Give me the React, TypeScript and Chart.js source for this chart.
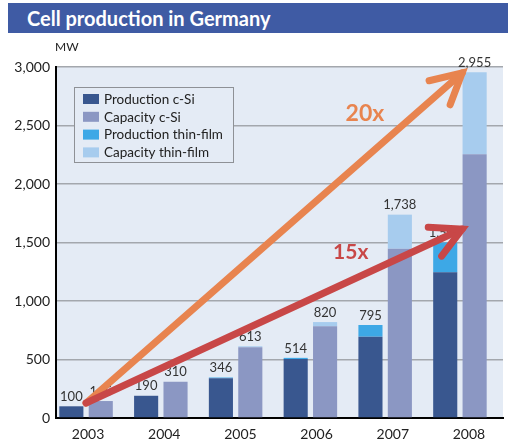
import { useEffect, useRef } from "react";
import { Chart, registerables } from "chart.js";

Chart.register(...registerables);

const years = ["2003", "2004", "2005", "2006", "2007", "2008"];
const productionCSi = [100, 190, 340, 504, 695, 1245];
const productionThinFilm = [0, 0, 6, 10, 100, 255];
const capacityCSi = [145, 310, 605, 784, 1447, 2254];
const capacityThinFilm = [0, 0, 8, 36, 291, 701];
const yTicks = [0, 500, 1000, 1500, 2000, 2500, 3000];

// growth arrows, in data units: [category index, MW]
const arrowLabels = ["20x", "15x"];
const arrowFrom = [[0, 128], [0, 128]];
const arrowTo = [[5.03, 2949], [5.03, 1615]];
const arrowTextAt = [[3.73, 2603], [3.54, 1419]];

const FONT = "Lato, 'Open Sans', sans-serif";
const COLORS = {
  prodCSi: "#39578F",
  capCSi: "#8B97C3",
  prodTF: "#3DA8E6",
  capTF: "#A7CCEE",
  bg: "#E4EBF5",
  grid: "#A3A7AD",
  text: "#222222",
};
const arrowColors = ["#E8844F", "#C84747"];
const arrowFontSize = [23, 21];

const legendItems = [
  { label: "Production c-Si", color: COLORS.prodCSi },
  { label: "Capacity c-Si", color: COLORS.capCSi },
  { label: "Production thin-film", color: COLORS.prodTF },
  { label: "Capacity thin-film", color: COLORS.capTF },
];

const fmt = (v: number) => v.toLocaleString("en-US");

const bgPlugin = {
  id: "bgPlugin",
  beforeDraw(chart: any) {
    const { ctx, chartArea } = chart;
    ctx.save();
    ctx.fillStyle = COLORS.bg;
    ctx.fillRect(chartArea.left, chartArea.top, chartArea.right - chartArea.left, chartArea.bottom - chartArea.top);
    ctx.restore();
  },
};

const overlayPlugin = {
  id: "overlayPlugin",
  afterDatasetsDraw(chart: any) {
    const { ctx } = chart;
    const xs = chart.scales.x;
    const ys = chart.scales.y;
    ctx.save();
    // totals above each stack
    ctx.font = `13px ${FONT}`;
    ctx.fillStyle = "#333";
    ctx.textAlign = "center";
    ctx.textBaseline = "bottom";
    const tops = [
      { meta: chart.getDatasetMeta(2), a: productionCSi, b: productionThinFilm },
      { meta: chart.getDatasetMeta(3), a: capacityCSi, b: capacityThinFilm },
    ];
    tops.forEach(({ meta, a, b }) => {
      meta.data.forEach((el: any, i: number) => {
        ctx.fillText(fmt(a[i] + b[i]), el.x, el.y - 3);
      });
    });

    // legend box
    const lx = 74.5, ly = 87.5, lw = 159, lh = 75;
    ctx.fillStyle = COLORS.bg;
    ctx.fillRect(lx, ly, lw, lh);
    ctx.strokeStyle = "#8E9196";
    ctx.lineWidth = 1;
    ctx.strokeRect(lx, ly, lw, lh);
    ctx.textAlign = "left";
    ctx.textBaseline = "middle";
    ctx.font = `13.5px ${FONT}`;
    legendItems.forEach((it, i) => {
      const cy = 99 + i * 17.8;
      ctx.fillStyle = it.color;
      ctx.fillRect(83, cy - 5, 16, 10);
      ctx.fillStyle = COLORS.text;
      ctx.fillText(it.label, 104, cy + 0.5);
    });

    // MW unit
    ctx.font = `12px ${FONT}`;
    ctx.fillStyle = COLORS.text;
    ctx.fillText("MW", 55, 47);

    // arrows
    arrowLabels.forEach((lab, k) => {
      const x0 = xs.getPixelForValue(arrowFrom[k][0]);
      const y0 = ys.getPixelForValue(arrowFrom[k][1]);
      const x1 = xs.getPixelForValue(arrowTo[k][0]);
      const y1 = ys.getPixelForValue(arrowTo[k][1]);
      ctx.strokeStyle = arrowColors[k];
      ctx.lineWidth = 7;
      ctx.lineCap = "round";
      ctx.lineJoin = "round";
      ctx.beginPath();
      ctx.moveTo(x0, y0);
      ctx.lineTo(x1, y1);
      ctx.stroke();
      const ang = Math.atan2(y0 - y1, x0 - x1);
      const len = 34;
      const spread = (28 * Math.PI) / 180;
      ctx.lineJoin = "miter";
      ctx.beginPath();
      ctx.moveTo(x1 + len * Math.cos(ang + spread), y1 + len * Math.sin(ang + spread));
      ctx.lineTo(x1, y1);
      ctx.lineTo(x1 + len * Math.cos(ang - spread), y1 + len * Math.sin(ang - spread));
      ctx.stroke();
      ctx.font = `bold ${arrowFontSize[k]}px ${FONT}`;
      ctx.fillStyle = arrowColors[k];
      ctx.textAlign = "center";
      ctx.textBaseline = "middle";
      ctx.fillText(lab, xs.getPixelForValue(arrowTextAt[k][0]), ys.getPixelForValue(arrowTextAt[k][1]));
    });
    ctx.restore();
  },
};

export default function App() {
  const ref = useRef<HTMLCanvasElement | null>(null);
  useEffect(() => {
    if (!ref.current) return;
    const toXY = (arr: number[]) => arr.map((v, i) => ({ x: i, y: v }));
    const chart = new Chart(ref.current, {
      type: "bar",
      data: {
        datasets: [
          { label: "Production c-Si", data: toXY(productionCSi), backgroundColor: COLORS.prodCSi, stack: "p" },
          { label: "Capacity c-Si", data: toXY(capacityCSi), backgroundColor: COLORS.capCSi, stack: "c" },
          { label: "Production thin-film", data: toXY(productionThinFilm), backgroundColor: COLORS.prodTF, stack: "p" },
          { label: "Capacity thin-film", data: toXY(capacityThinFilm), backgroundColor: COLORS.capTF, stack: "c" },
        ],
      },
      options: {
        animation: false,
        responsive: false,
        devicePixelRatio: 1,
        layout: { padding: { top: 67, right: 5, left: 0, bottom: 0 } },
        datasets: { bar: { categoryPercentage: 0.804, barPercentage: 0.82, borderWidth: 0 } },
        plugins: { legend: { display: false }, tooltip: { enabled: false }, title: { display: false } },
        scales: {
          x: {
            type: "linear",
            stacked: true,
            offset: false,
            bounds: "data",
            min: -0.402,
            max: 5.576,
            display: false,
            grid: { offset: false },
          },
          x2: {
            type: "linear",
            position: "bottom",
            offset: false,
            bounds: "data",
            min: -0.421,
            max: 5.447,
            afterBuildTicks: (s: any) => {
              s.ticks = years.map((_, i) => ({ value: i }));
            },
            afterFit: (s: any) => {
              s.height = 24;
            },
            grid: { display: false, drawTicks: false, offset: false },
            border: { display: true, color: "#000", width: 2 },
            ticks: {
              padding: 8,
              color: COLORS.text,
              font: { family: FONT, size: 14 },
              callback: (v: any) => years[v as number] ?? "",
            },
          },
          y: {
            type: "linear",
            stacked: true,
            min: 0,
            max: 3000,
            afterBuildTicks: (s: any) => {
              s.ticks = yTicks.map((v) => ({ value: v }));
            },
            afterFit: (s: any) => {
              s.width = 56;
            },
            grid: { color: COLORS.grid, lineWidth: 1.5, drawTicks: false },
            border: { display: true, color: "#000", width: 2 },
            ticks: {
              padding: 6,
              color: COLORS.text,
              font: { family: FONT, size: 14 },
              callback: (v: any) => fmt(v as number),
            },
          },
        },
      } as any,
      plugins: [bgPlugin, overlayPlugin],
    });
    return () => chart.destroy();
  }, []);

  return (
    <div style={{ position: "absolute", left: 0, top: 0, width: 508, height: 442, background: "#fff" }}>
      <canvas ref={ref} width={508} height={442} style={{ position: "absolute", left: 0, top: 0, width: 508, height: 442 }} />
      <div
        style={{
          position: "absolute",
          left: 8,
          top: 3,
          width: 500,
          height: 30,
          background: "#3F5BA4",
          color: "#fff",
          fontFamily: FONT,
          fontWeight: "bold",
          fontSize: 20,
          lineHeight: "30px",
          paddingLeft: 19,
          boxSizing: "border-box",
        }}
      >
        Cell production in Germany
      </div>
    </div>
  );
}
